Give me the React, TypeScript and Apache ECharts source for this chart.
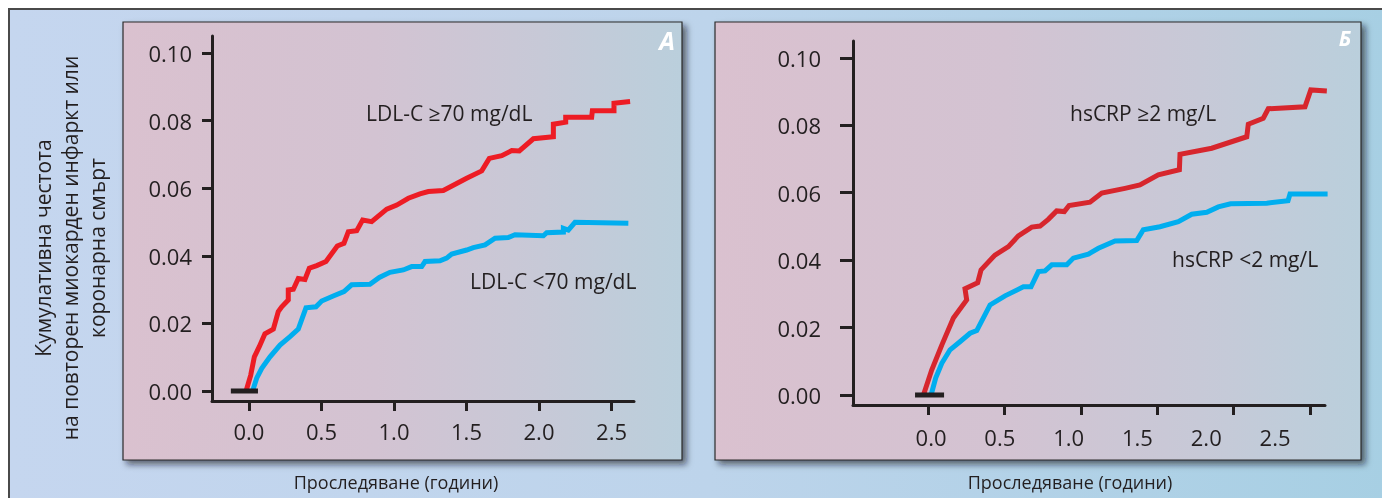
import React, { useEffect, useRef } from "react";
import * as echarts from "echarts";

// ---- data ----
const xTickValues = [0, 0.5, 1.0, 1.5, 2.0, 2.5];
const yTickValues = [0, 0.02, 0.04, 0.06, 0.08, 0.1];

// Panel А: LDL-C
const ldlHigh: [number, number][] = [
  [-0.02, 0], [0.012, 0.0047], [0.037, 0.0101], [0.071, 0.0131], [0.11, 0.0169],
  [0.168, 0.0183], [0.202, 0.0235], [0.226, 0.0249], [0.271, 0.0269], [0.271, 0.0299],
  [0.306, 0.0301], [0.34, 0.0333], [0.386, 0.033], [0.416, 0.0363], [0.467, 0.0371],
  [0.531, 0.0383], [0.609, 0.0429], [0.655, 0.0437], [0.685, 0.0471], [0.743, 0.0474],
  [0.784, 0.0506], [0.846, 0.0501], [0.95, 0.0538], [1.019, 0.055], [1.099, 0.057],
  [1.179, 0.0583], [1.237, 0.059], [1.34, 0.0593], [1.501, 0.0629], [1.605, 0.0651],
  [1.657, 0.0688], [1.743, 0.0696], [1.812, 0.0711], [1.864, 0.071], [1.961, 0.0746],
  [2.099, 0.0752], [2.099, 0.0789], [2.184, 0.0795], [2.184, 0.081], [2.363, 0.081],
  [2.368, 0.0829], [2.517, 0.0829], [2.517, 0.0851], [2.628, 0.0856],
];
const ldlLow: [number, number][] = [
  [0.025, 0], [0.053, 0.0038], [0.088, 0.0067], [0.145, 0.0101], [0.214, 0.0136],
  [0.283, 0.0161], [0.34, 0.0183], [0.393, 0.0246], [0.462, 0.0249], [0.501, 0.0266],
  [0.581, 0.0281], [0.655, 0.0294], [0.708, 0.0314], [0.834, 0.0316], [0.899, 0.0336],
  [0.972, 0.0351], [1.064, 0.0358], [1.122, 0.0368], [1.191, 0.0368], [1.214, 0.0383],
  [1.317, 0.0385], [1.363, 0.0393], [1.398, 0.0405], [1.501, 0.0417], [1.547, 0.0424],
  [1.628, 0.0432], [1.697, 0.0452], [1.788, 0.0454], [1.834, 0.0462], [2.03, 0.0459],
  [2.053, 0.0468], [2.168, 0.047], [2.168, 0.0481], [2.202, 0.0476], [2.248, 0.0499],
  [2.616, 0.0496],
];
// Panel Б: hsCRP
const crpHigh: [number, number][] = [
  [-0.03, 0], [0.024, 0.0074], [0.09, 0.0148], [0.166, 0.0228], [0.253, 0.0282],
  [0.242, 0.0315], [0.325, 0.0333], [0.347, 0.0371], [0.438, 0.0415], [0.526, 0.044],
  [0.591, 0.0472], [0.679, 0.0498], [0.733, 0.0501], [0.787, 0.0521], [0.842, 0.0546],
  [0.892, 0.0544], [0.923, 0.0562], [1.06, 0.0572], [1.137, 0.0599], [1.289, 0.0613],
  [1.387, 0.0623], [1.507, 0.0653], [1.645, 0.0668], [1.649, 0.0714], [1.857, 0.0732],
  [2.086, 0.0766], [2.096, 0.0803], [2.194, 0.0821], [2.227, 0.0849], [2.467, 0.0855],
  [2.505, 0.0905], [2.61, 0.0902],
];
const crpLow: [number, number][] = [
  [0.02, 0], [0.05, 0.005], [0.09, 0.0094], [0.144, 0.0134], [0.209, 0.0158],
  [0.275, 0.0183], [0.319, 0.0191], [0.406, 0.0267], [0.504, 0.0294], [0.624, 0.0321],
  [0.674, 0.0321], [0.722, 0.0366], [0.766, 0.0368], [0.81, 0.0386], [0.908, 0.0386],
  [0.951, 0.0406], [1.049, 0.0418], [1.115, 0.0435], [1.224, 0.0457], [1.366, 0.0458],
  [1.409, 0.049], [1.518, 0.0499], [1.638, 0.0514], [1.726, 0.0536], [1.824, 0.0542],
  [1.9, 0.0558], [1.98, 0.0567], [2.217, 0.0569], [2.356, 0.0576], [2.369, 0.0596],
  [2.615, 0.0596],
];
const baseA: [number, number][] = [[-0.125, 0], [0.062, 0]];
const baseB: [number, number][] = [[-0.085, 0], [0.105, 0]];

const panelLetters = ["А", "Б"];
const seriesNames = ["LDL-C ≥70 mg/dL", "LDL-C <70 mg/dL", "hsCRP ≥2 mg/L", "hsCRP <2 mg/L"];
const xTitle = "Проследяване (години)";
const yTitleLines = ["Кумулативна честота", "на повторен миокарден инфаркт или", "коронарна смърт"];

const FONT = "Open Sans";
const INK = "#231f20";

export default function App() {
  const ref = useRef<HTMLDivElement>(null);
  useEffect(() => {
    if (!ref.current) return;
    const chart = echarts.init(ref.current, undefined, { renderer: "svg" });

    const panelGrad = () =>
      new echarts.graphic.LinearGradient(0, 0, 1, 0, [
        { offset: 0, color: "#dac1cf" },
        { offset: 0.45, color: "#d3c3d2" },
        { offset: 0.75, color: "#c7c9d7" },
        { offset: 1, color: "#bacfdc" },
      ]);

    const yAxisBase = (gridIndex: number, min: number, max: number, tickLen: number, margin: number) => ({
      type: "value" as const,
      gridIndex,
      min,
      max,
      splitLine: { show: false },
      axisLine: { show: true, onZero: false, lineStyle: { color: INK, width: 3 } },
      axisTick: { show: true, length: tickLen, lineStyle: { color: INK, width: 3 }, customValues: yTickValues },
      axisLabel: {
        show: true,
        margin,
        fontSize: 22,
        fontFamily: FONT,
        color: INK,
        customValues: yTickValues,
        formatter: (v: number) => v.toFixed(2),
      },
    });

    const lineSeries = (name: string, data: [number, number][], color: string, xi: number, yi: number) => ({
      type: "line" as const,
      name,
      data,
      xAxisIndex: xi,
      yAxisIndex: yi,
      symbol: "none",
      clip: false,
      z: 3,
      lineStyle: { color, width: 5, join: "miter" },
    });

    const baseSeries = (data: [number, number][], xi: number, yi: number) => ({
      type: "line" as const,
      data,
      xAxisIndex: xi,
      yAxisIndex: yi,
      symbol: "none",
      clip: false,
      z: 4,
      lineStyle: { color: INK, width: 5, cap: "butt" },
    });

    const text = (t: string, x: number, y: number, size: number, extra: any = {}) => ({
      type: "text",
      x,
      y,
      z: 50,
      style: {
        text: t,
        fontSize: size,
        fontFamily: FONT,
        fill: INK,
        verticalAlign: "middle",
        ...extra,
      },
    });

    chart.setOption({
      animation: false,
      grid: [
        { left: 212, top: 36, width: 422, height: 365, outerBoundsMode: "none", containLabel: false },
        { left: 853, top: 41, width: 472, height: 364, outerBoundsMode: "none", containLabel: false },
      ],
      xAxis: [
        {
          type: "value",
          gridIndex: 0,
          min: -0.255,
          max: 2.655,
          splitLine: { show: false },
          axisLine: { show: true, onZero: false, lineStyle: { color: INK, width: 3 } },
          axisTick: { show: true, length: 10, lineStyle: { color: INK, width: 3 }, customValues: xTickValues },
          axisLabel: {
            show: true,
            margin: 19,
            fontSize: 22,
            fontFamily: FONT,
            color: INK,
            customValues: xTickValues,
            formatter: (v: number) => v.toFixed(1),
          },
        },
        {
          type: "value",
          gridIndex: 1,
          min: -0.491,
          max: 2.598,
          splitLine: { show: false },
          axisLine: { show: true, onZero: false, lineStyle: { color: INK, width: 3 } },
          axisTick: { show: true, length: 10, lineStyle: { color: INK, width: 3 }, customValues: xTickValues },
          axisLabel: { show: false },
        },
        {
          type: "value",
          gridIndex: 1,
          position: "bottom",
          offset: 0,
          min: -0.567,
          max: 2.863,
          splitLine: { show: false },
          axisLine: { show: false, onZero: false },
          axisTick: { show: false },
          axisLabel: {
            show: true,
            margin: 21,
            fontSize: 22,
            fontFamily: FONT,
            color: INK,
            customValues: xTickValues,
            formatter: (v: number) => v.toFixed(1),
          },
        },
      ],
      yAxis: [
        yAxisBase(0, -0.00296, 0.105, 10, 20),
        yAxisBase(1, -0.00297, 0.105, 13, 32),
      ],
      series: [
        lineSeries(seriesNames[0], ldlHigh, "#ed1c24", 0, 0),
        lineSeries(seriesNames[1], ldlLow, "#00aeef", 0, 0),
        baseSeries(baseA, 0, 0),
        lineSeries(seriesNames[2], crpHigh, "#d7262d", 1, 1),
        lineSeries(seriesNames[3], crpLow, "#00aeef", 1, 1),
        baseSeries(baseB, 1, 1),
      ],
      graphic: [
        {
          type: "rect",
          z: -20,
          shape: { x: 9, y: 9, width: 1400, height: 520 },
          style: {
            fill: new echarts.graphic.LinearGradient(0, 0, 1, 0, [
              { offset: 0, color: "#c5d6ef" },
              { offset: 0.5, color: "#bdd4eb" },
              { offset: 1, color: "#a6cfe3" },
            ]),
            stroke: "#4a4a4a",
            lineWidth: 2,
          },
        },
        {
          type: "rect",
          z: -10,
          shape: { x: 123, y: 22, width: 559, height: 438 },
          style: {
            fill: panelGrad(),
            stroke: "#2b2b2b",
            lineWidth: 1.2,
            shadowBlur: 6,
            shadowOffsetX: 4,
            shadowOffsetY: 4,
            shadowColor: "rgba(20,20,30,0.6)",
          },
        },
        {
          type: "rect",
          z: -10,
          shape: { x: 715, y: 22, width: 646, height: 438 },
          style: {
            fill: panelGrad(),
            stroke: "#2b2b2b",
            lineWidth: 1.2,
            shadowBlur: 6,
            shadowOffsetX: 4,
            shadowOffsetY: 4,
            shadowColor: "rgba(20,20,30,0.6)",
          },
        },
        text(panelLetters[0], 667, 40, 25, { fill: "#ffffff", fontWeight: "bold", fontStyle: "italic", align: "center" }),
        text(panelLetters[1], 1345, 38, 21, { fill: "#ffffff", fontWeight: "bold", fontStyle: "italic", align: "center" }),
        text(seriesNames[0], 366, 113, 21),
        text(seriesNames[1], 470, 281, 21),
        text(seriesNames[2], 1070, 113, 21),
        text(seriesNames[3], 1172, 259, 21),
        text(xTitle, 396, 482, 18, { align: "center" }),
        text(xTitle, 1070, 482, 18, { align: "center" }),
        {
          type: "text",
          x: 70,
          y: 248,
          rotation: Math.PI / 2,
          z: 50,
          style: {
            text: yTitleLines.join("\n"),
            fontSize: 21,
            fontFamily: FONT,
            fill: INK,
            align: "center",
            verticalAlign: "middle",
            lineHeight: 27,
          },
        },
      ],
    });
    return () => chart.dispose();
  }, []);
  return <div ref={ref} style={{ position: "fixed", left: 0, top: 0, width: 1382, height: 498 }} />;
}
